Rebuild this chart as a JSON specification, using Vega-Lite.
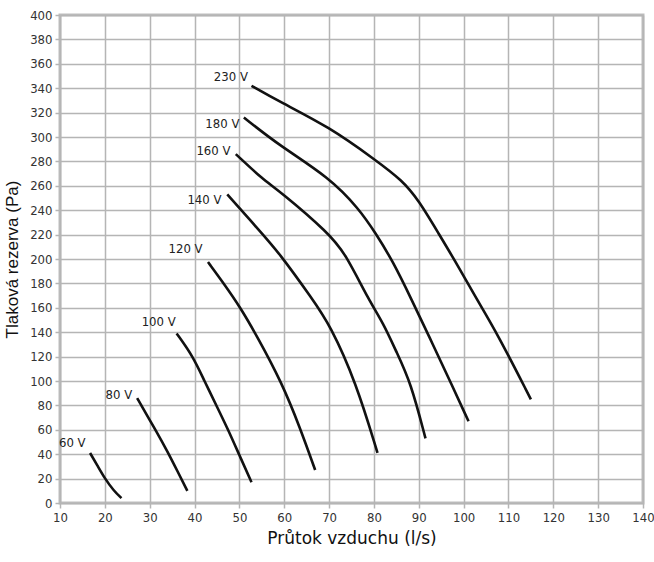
{
  "$schema": "https://vega.github.io/schema/vega-lite/v6.json",
  "width": 583,
  "height": 488,
  "autosize": {"type": "none"},
  "padding": {"left": 60, "top": 15, "right": 11, "bottom": 59},
  "background": "white",
  "config": {
    "view": {"stroke": "#bdbdbd", "strokeWidth": 3},
    "axis": {
      "gridColor": "#b5b5b5",
      "gridWidth": 1.5,
      "gridOpacity": 1,
      "domain": false,
      "tickColor": "#b5b5b5",
      "tickWidth": 1.5,
      "tickSize": 5,
      "labelFont": "DejaVu Sans Condensed, Roboto Condensed, Arial Narrow, sans-serif",
      "labelFontSize": 13,
      "labelColor": "#333333",
      "labelPadding": 3,
      "labelOverlap": false,
      "labelFlush": false,
      "titleFontWeight": "normal",
      "titleColor": "#111111"
    }
  },
  "datasets": {
    "curves": [
      {"voltage": "60 V", "flow": 16.7, "pressure": 41},
      {"voltage": "60 V", "flow": 18.3, "pressure": 31},
      {"voltage": "60 V", "flow": 20, "pressure": 20},
      {"voltage": "60 V", "flow": 22, "pressure": 10},
      {"voltage": "60 V", "flow": 23.7, "pressure": 4},
      {"voltage": "80 V", "flow": 27.2, "pressure": 86},
      {"voltage": "80 V", "flow": 29.2, "pressure": 73},
      {"voltage": "80 V", "flow": 31.3, "pressure": 60},
      {"voltage": "80 V", "flow": 34, "pressure": 42},
      {"voltage": "80 V", "flow": 36.2, "pressure": 26},
      {"voltage": "80 V", "flow": 38.4, "pressure": 10},
      {"voltage": "100 V", "flow": 36, "pressure": 139},
      {"voltage": "100 V", "flow": 39.7, "pressure": 120},
      {"voltage": "100 V", "flow": 42.2, "pressure": 100},
      {"voltage": "100 V", "flow": 45, "pressure": 79},
      {"voltage": "100 V", "flow": 47.5, "pressure": 60},
      {"voltage": "100 V", "flow": 49.9, "pressure": 40},
      {"voltage": "100 V", "flow": 52.7, "pressure": 17},
      {"voltage": "120 V", "flow": 43, "pressure": 197.5},
      {"voltage": "120 V", "flow": 46.5, "pressure": 180},
      {"voltage": "120 V", "flow": 50.1, "pressure": 161},
      {"voltage": "120 V", "flow": 54.2, "pressure": 135},
      {"voltage": "120 V", "flow": 59.4, "pressure": 99},
      {"voltage": "120 V", "flow": 63.5, "pressure": 62},
      {"voltage": "120 V", "flow": 66.9, "pressure": 27},
      {"voltage": "140 V", "flow": 47.3, "pressure": 253},
      {"voltage": "140 V", "flow": 53.8, "pressure": 226},
      {"voltage": "140 V", "flow": 58.9, "pressure": 205},
      {"voltage": "140 V", "flow": 66.3, "pressure": 167},
      {"voltage": "140 V", "flow": 70.2, "pressure": 146},
      {"voltage": "140 V", "flow": 76, "pressure": 99},
      {"voltage": "140 V", "flow": 80.8, "pressure": 41},
      {"voltage": "160 V", "flow": 49.2, "pressure": 286},
      {"voltage": "160 V", "flow": 55.3, "pressure": 265},
      {"voltage": "160 V", "flow": 58.9, "pressure": 256},
      {"voltage": "160 V", "flow": 70, "pressure": 221},
      {"voltage": "160 V", "flow": 73.7, "pressure": 204},
      {"voltage": "160 V", "flow": 78.9, "pressure": 166},
      {"voltage": "160 V", "flow": 82, "pressure": 148},
      {"voltage": "160 V", "flow": 85, "pressure": 124},
      {"voltage": "160 V", "flow": 88.2, "pressure": 99},
      {"voltage": "160 V", "flow": 91.5, "pressure": 53},
      {"voltage": "180 V", "flow": 51, "pressure": 316},
      {"voltage": "180 V", "flow": 58.9, "pressure": 293},
      {"voltage": "180 V", "flow": 70, "pressure": 267},
      {"voltage": "180 V", "flow": 76.7, "pressure": 241},
      {"voltage": "180 V", "flow": 80.4, "pressure": 221},
      {"voltage": "180 V", "flow": 84.1, "pressure": 199},
      {"voltage": "180 V", "flow": 88.5, "pressure": 166},
      {"voltage": "180 V", "flow": 92.5, "pressure": 135},
      {"voltage": "180 V", "flow": 96.2, "pressure": 106},
      {"voltage": "180 V", "flow": 101.1, "pressure": 67},
      {"voltage": "230 V", "flow": 52.7, "pressure": 342},
      {"voltage": "230 V", "flow": 58.9, "pressure": 329},
      {"voltage": "230 V", "flow": 70, "pressure": 308.3},
      {"voltage": "230 V", "flow": 80.4, "pressure": 281},
      {"voltage": "230 V", "flow": 86.3, "pressure": 264.5},
      {"voltage": "230 V", "flow": 90, "pressure": 248},
      {"voltage": "230 V", "flow": 94.4, "pressure": 221},
      {"voltage": "230 V", "flow": 98.9, "pressure": 193.5},
      {"voltage": "230 V", "flow": 102.6, "pressure": 169},
      {"voltage": "230 V", "flow": 107.5, "pressure": 139},
      {"voltage": "230 V", "flow": 115, "pressure": 85}
    ],
    "labels": [
      {"voltage": "60 V", "flow": 15.7, "pressure": 49.4},
      {"voltage": "80 V", "flow": 26.1, "pressure": 88.3},
      {"voltage": "100 V", "flow": 35.8, "pressure": 148.4},
      {"voltage": "120 V", "flow": 41.8, "pressure": 208.5},
      {"voltage": "140 V", "flow": 46.0, "pressure": 248.7},
      {"voltage": "160 V", "flow": 48.0, "pressure": 288.3},
      {"voltage": "180 V", "flow": 50.0, "pressure": 310.4},
      {"voltage": "230 V", "flow": 51.9, "pressure": 349.2}
    ]
  },
  "encoding": {
    "x": {
      "field": "flow", "type": "quantitative",
      "scale": {"domain": [10, 140], "nice": false},
      "axis": {"values": [10,20,30,40,50,60,70,80,90,100,110,120,130,140], "title": "Průtok vzduchu (l/s)", "titleFont": "DejaVu Sans", "titleFontSize": 17, "titlePadding": 6}
    },
    "y": {
      "field": "pressure", "type": "quantitative",
      "scale": {"domain": [0, 400], "nice": false},
      "axis": {"values": [0,20,40,60,80,100,120,140,160,180,200,220,240,260,280,300,320,340,360,380,400], "title": "Tlaková rezerva (Pa)", "titleFont": "Liberation Sans", "titleFontSize": 17, "titlePadding": 8}
    }
  },
  "layer": [
    {
      "data": {"name": "curves"},
      "mark": {"type": "line", "color": "#111111", "strokeWidth": 2.6, "interpolate": "basis", "strokeCap": "butt"},
      "encoding": {
        "detail": {"field": "voltage"}
      }
    },
    {
      "data": {"name": "labels"},
      "mark": {"type": "text", "align": "right", "baseline": "middle", "font": "DejaVu Sans Condensed, Roboto Condensed, sans-serif", "fontSize": 13, "color": "#222222"},
      "encoding": {
        "text": {"field": "voltage"}
      }
    }
  ]
}
